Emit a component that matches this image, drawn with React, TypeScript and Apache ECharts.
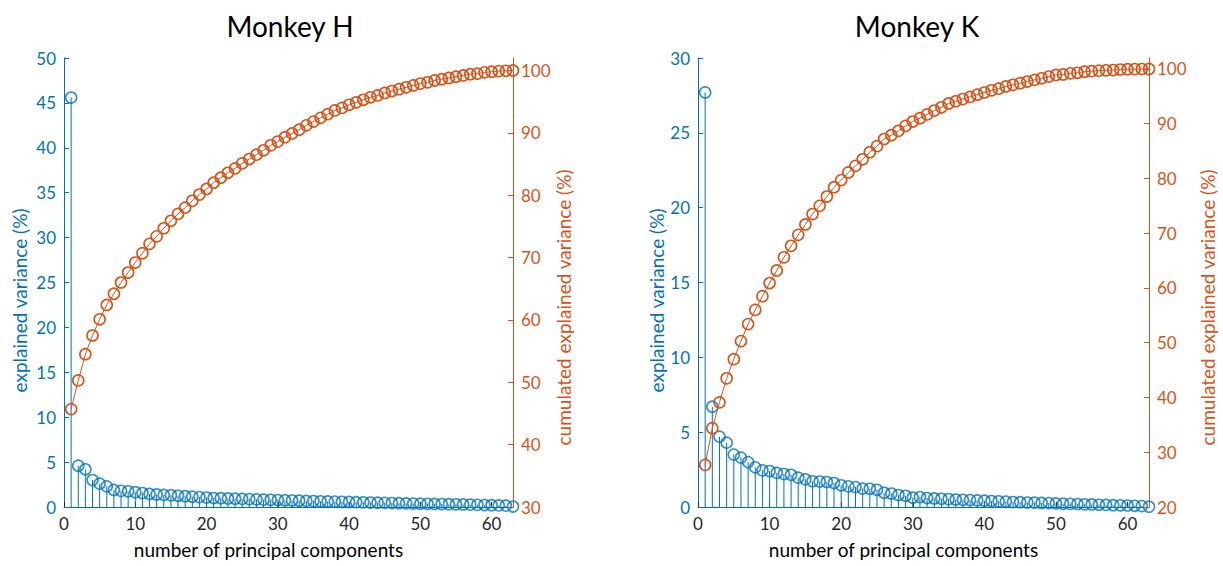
import React, { useEffect, useRef } from "react";
import * as echarts from "echarts";

// ---- data ----
const X_TICKS = [0, 10, 20, 30, 40, 50, 60];

const H_LEFT_TICKS = [0, 5, 10, 15, 20, 25, 30, 35, 40, 45, 50];
const H_RIGHT_TICKS = [30, 40, 50, 60, 70, 80, 90, 100];
const K_LEFT_TICKS = [0, 5, 10, 15, 20, 25, 30];
const K_RIGHT_TICKS = [20, 30, 40, 50, 60, 70, 80, 90, 100];

const H_EXPLAINED = [
  45.6, 4.6, 4.2, 3.0, 2.6, 2.3, 1.9, 1.8, 1.75, 1.65,
  1.55, 1.45, 1.4, 1.35, 1.3, 1.25, 1.2, 1.15, 1.1, 1.05,
  1.0, 0.98, 0.95, 0.92, 0.9, 0.88, 0.85, 0.82, 0.8, 0.78,
  0.75, 0.72, 0.7, 0.68, 0.66, 0.64, 0.62, 0.6, 0.58, 0.56,
  0.54, 0.52, 0.5, 0.48, 0.46, 0.44, 0.42, 0.4, 0.39, 0.37,
  0.36, 0.34, 0.33, 0.31, 0.3, 0.28, 0.26, 0.24, 0.22, 0.2,
  0.18, 0.15, 0.05,
];
const H_CUMULATED = [
  45.7, 50.3, 54.5, 57.5, 60.1, 62.4, 64.2, 66.0, 67.6, 69.2,
  70.7, 72.2, 73.4, 74.7, 75.9, 77.0, 78.0, 79.1, 80.1, 81.0,
  82.0, 82.8, 83.6, 84.3, 85.1, 85.8, 86.5, 87.2, 88.0, 88.6,
  89.3, 89.9, 90.5, 91.2, 91.8, 92.4, 93.0, 93.6, 94.0, 94.5,
  94.9, 95.3, 95.7, 96.0, 96.4, 96.7, 97.0, 97.3, 97.6, 97.9,
  98.1, 98.4, 98.6, 98.8, 99.0, 99.2, 99.4, 99.5, 99.7, 99.8,
  99.9, 99.95, 100,
];

const K_EXPLAINED = [
  27.7, 6.7, 4.7, 4.3, 3.5, 3.3, 3.0, 2.65, 2.45, 2.4,
  2.28, 2.2, 2.15, 1.96, 1.85, 1.72, 1.7, 1.67, 1.6, 1.45,
  1.38, 1.33, 1.23, 1.22, 1.15, 0.95, 0.9, 0.8, 0.75, 0.62,
  0.66, 0.6, 0.57, 0.55, 0.53, 0.5, 0.48, 0.46, 0.44, 0.42,
  0.4, 0.38, 0.36, 0.33, 0.32, 0.3, 0.29, 0.27, 0.26, 0.24,
  0.22, 0.21, 0.2, 0.18, 0.17, 0.15, 0.14, 0.12, 0.11, 0.1,
  0.08, 0.06, 0.02,
];
const K_CUMULATED = [
  27.7, 34.4, 39.1, 43.5, 47.0, 50.3, 53.4, 56.0, 58.5, 60.9,
  63.2, 65.6, 67.7, 69.7, 71.6, 73.5, 75.0, 76.7, 78.4, 79.7,
  81.1, 82.3, 83.5, 84.8, 85.9, 87.2, 87.9, 88.7, 89.6, 90.4,
  91.0, 91.7, 92.4, 93.0, 93.7, 94.1, 94.5, 94.9, 95.3, 95.7,
  96.1, 96.4, 96.8, 97.1, 97.4, 97.7, 98.0, 98.3, 98.6, 98.9,
  99.0, 99.2, 99.3, 99.5, 99.6, 99.7, 99.75, 99.8, 99.9, 99.95,
  99.97, 99.99, 100,
];

const TITLES = ["Monkey H", "Monkey K"];

// ---- styles ----
const BLUE = "#0072BD";
const ORANGE = "#D95319";
const DARK = "#262626";
const FONT = "Lato";
const TICK_FS = 17;
const NAME_FS = 19;

function xAxis(gridIndex: number) {
  return {
    type: "value",
    gridIndex,
    min: 0,
    max: 63,
    axisLine: { show: true, onZero: false, lineStyle: { color: BLUE, width: 1 } },
    axisTick: { show: true, inside: true, length: 5, customValues: X_TICKS, lineStyle: { color: DARK } },
    axisLabel: { customValues: X_TICKS, color: DARK, fontSize: TICK_FS, margin: 8, fontFamily: FONT },
    splitLine: { show: false },
    name: "number of principal components",
    nameLocation: "middle",
    nameGap: 33,
    nameTextStyle: { color: "#000", fontSize: NAME_FS, fontFamily: FONT, padding: [0, 40, 0, 0] },
  };
}

function yAxis(
  gridIndex: number,
  side: "left" | "right",
  min: number,
  max: number,
  ticks: number[],
  color: string,
  name: string,
  gap: number,
  shift: number
) {
  return {
    type: "value",
    gridIndex,
    position: side,
    min,
    max,
    axisLine: { show: true, onZero: false, lineStyle: { color, width: 1 } },
    axisTick: { show: true, inside: true, length: 5, customValues: ticks, lineStyle: { color } },
    axisLabel: { customValues: ticks, color, fontSize: TICK_FS, margin: 8, fontFamily: FONT },
    splitLine: { show: false },
    name,
    nameLocation: "middle",
    nameGap: gap,
    nameTextStyle: { color, fontSize: NAME_FS, fontFamily: FONT, padding: [0, shift * 2, 0, 0] },
  };
}

function panelSeries(idx: number, explained: number[], cumulated: number[]) {
  const stemData = explained.map((v, i) => [i + 1, v]);
  const cumData = cumulated.map((v, i) => [i + 1, v]);
  return [
    {
      type: "bar",
      xAxisIndex: idx,
      yAxisIndex: idx * 2,
      data: stemData,
      barWidth: 1,
      itemStyle: { color: BLUE },
      silent: true,
      z: 2,
    },
    {
      type: "scatter",
      xAxisIndex: idx,
      yAxisIndex: idx * 2,
      data: stemData,
      symbol: "circle",
      symbolSize: 11,
      itemStyle: { color: "rgba(0,0,0,0)", borderColor: BLUE, borderWidth: 1.6 },
      z: 3,
    },
    {
      type: "line",
      xAxisIndex: idx,
      yAxisIndex: idx * 2 + 1,
      data: cumData,
      symbol: "circle",
      symbolSize: 11,
      showSymbol: true,
      showAllSymbol: true,
      lineStyle: { color: ORANGE, width: 1 },
      itemStyle: { color: "rgba(0,0,0,0)", borderColor: ORANGE, borderWidth: 1.6 },
      z: 4,
    },
  ];
}

export default function App() {
  const ref = useRef<HTMLDivElement>(null);

  useEffect(() => {
    if (!ref.current) return;
    const chart = echarts.init(ref.current, undefined, { renderer: "svg" });
    const titleStyle = { fontSize: 28, fontWeight: "normal", color: "#000", fontFamily: FONT };
    const option = {
      animation: false,
      backgroundColor: "#fff",
      title: [
        { text: TITLES[0], left: 285, top: 7, textAlign: "center", textStyle: titleStyle },
        { text: TITLES[1], left: 912, top: 7, textAlign: "center", textStyle: titleStyle },
      ],
      grid: [
        { left: 64, top: 58, width: 449, height: 449 },
        { left: 698, top: 58, width: 451, height: 449 },
      ],
      xAxis: [xAxis(0), xAxis(1)],
      yAxis: [
        yAxis(0, "left", 0, 50, H_LEFT_TICKS, BLUE, "explained variance (%)", 35, 18),
        yAxis(0, "right", 30, 102, H_RIGHT_TICKS, ORANGE, "cumulated explained variance (%)", 39, 25),
        yAxis(1, "left", 0, 30, K_LEFT_TICKS, BLUE, "explained variance (%)", 32, 18),
        yAxis(1, "right", 20, 102, K_RIGHT_TICKS, ORANGE, "cumulated explained variance (%)", 49, 25),
      ],
      series: [
        ...panelSeries(0, H_EXPLAINED, H_CUMULATED),
        ...panelSeries(1, K_EXPLAINED, K_CUMULATED),
      ],
    };
    chart.setOption(option as any);
    return () => chart.dispose();
  }, []);

  return (
    <div
      ref={ref}
      style={{ position: "fixed", left: 0, top: 0, width: 1223, height: 566, background: "#fff" }}
    />
  );
}
